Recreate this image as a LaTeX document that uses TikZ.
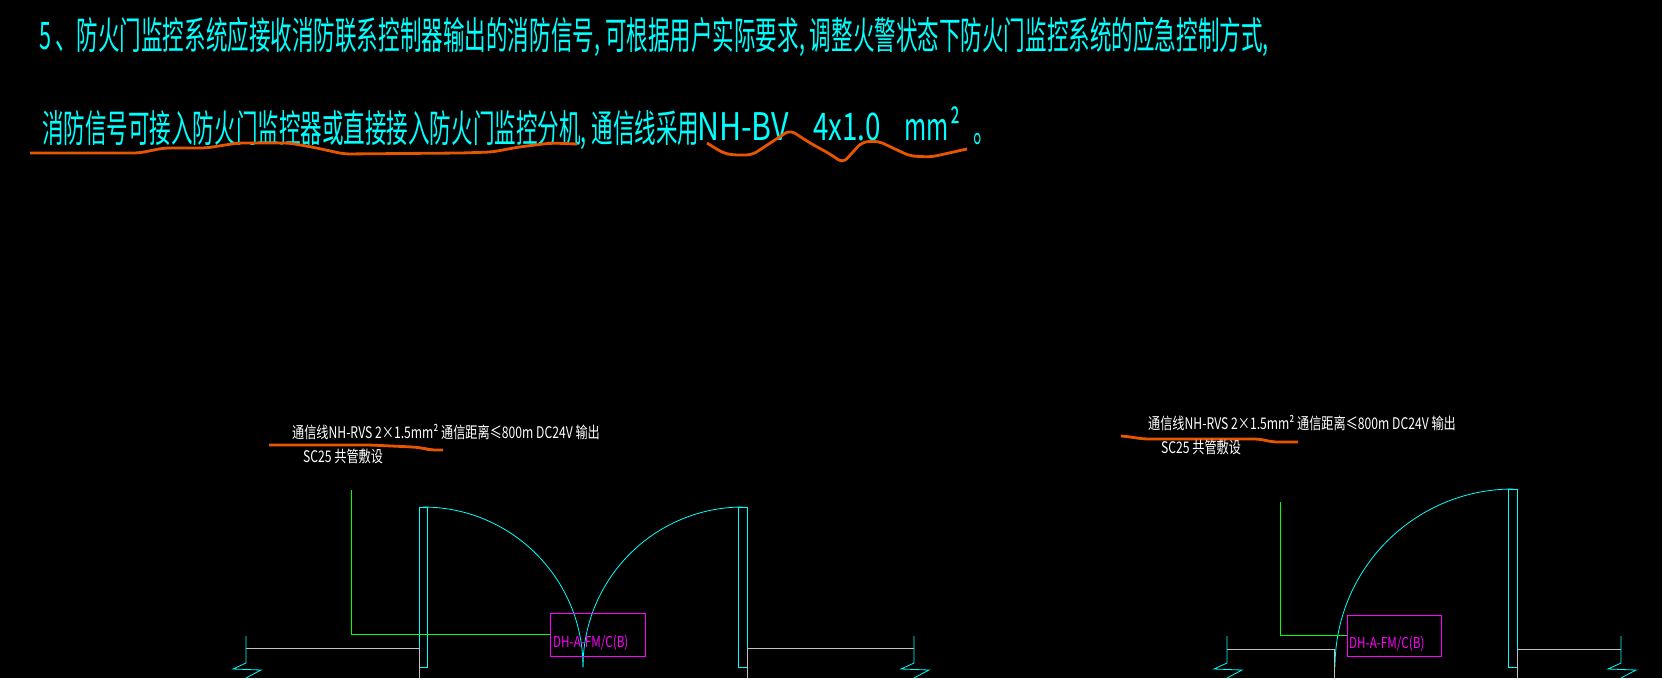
\documentclass[tikz,border=0pt]{standalone}
\usepackage{fontspec}
\setmainfont{Noto Sans CJK SC}
\definecolor{cadcyan}{HTML}{00FFFF}
\definecolor{cadgreen}{HTML}{00FF00}
\definecolor{cadpink}{HTML}{FF00FF}
\definecolor{cadwall}{HTML}{C0C0C0}
\definecolor{cadmark}{HTML}{E85500}
\newcommand*{\bigfont}{\fontsize{38}{38}\selectfont}
\newcommand*{\midfont}{\fontsize{16}{16}\selectfont}
\newcommand*{\boxfont}{\fontsize{15}{15}\selectfont}
\tikzset{
    cadtext/.style={inner sep=0pt, anchor=base west, transform shape},
    notetext/.style={cadtext, text=cadcyan, font=\bigfont},
    cabletext/.style={cadtext, text=white, font=\midfont},
    devicetext/.style={cadtext, text=cadpink, font=\boxfont},
    devicebox/.style={draw=cadpink, line width=0.8pt, inner sep=0pt, anchor=north west},
    doorline/.style={draw=cadcyan, line width=0.8pt},
    wallline/.style={draw=cadwall, line width=0.8pt},
    wireline/.style={draw=cadgreen, line width=0.8pt},
    markline/.style={draw=cadmark, line width=2.8pt, line join=round, rounded corners=6pt},
}
\newcommand*{\wallbreak}[1]{%
    \draw [doorline, shift={(#1,0)}] (0,636) -- (0,663) -- (-13,669) -- (15,670) -- (0,678);
}
\begin{document}
\begin{tikzpicture}[x=1pt,y=-1pt]
    \fill [black] (0,0) rectangle (1662,678);
    \useasboundingbox (0,0) rectangle (1662,678);
    % notes
    \node [notetext, xscale=0.5675] (noteone) at (39,49) {5\kern7pt、防火门监控系统应接收消防联系控制器输出的消防信号, 可根据用户实际要求, 调整火警状态下防火门监控系统的应急控制方式,};
    \node [notetext, xscale=0.567] (notetwo) at (42,142) {消防信号可接入防火门监控器或直接接入防火门监控分机, 通信线采用};
    \node [notetext, xscale=0.8] (notecable) at (697,140) {NH-BV};
    \node [notetext, xscale=0.73] (notesize) at (813,140) {4x1.0};
    \node [notetext, xscale=0.63] (noteunit) at (904,140) {mm\kern4pt ²};
    \node [notetext, xscale=0.57] (noteend) at (973,142) {。};
    % hand marks
    \draw [markline] (30,153) -- (139,153) -- (164,148) -- (206,148) -- (238,143) -- (289,143) -- (312,147) -- (344,154) -- (461,153) -- (492,152) -- (519,147) -- (551,143) -- (577,144);
    \draw [markline] (707,143) -- (723,153) -- (733,155) -- (752,155) -- (790,130) -- (810,143) -- (830,154) -- (843,163) -- (862,142) -- (878,141) -- (910,156) -- (931,157) -- (967,149);
    \draw [markline] (269,445) -- (370,445) -- (413,447) -- (423,448) -- (430,450) -- (443,450);
    \draw [markline] (1121,436) -- (1131,437) -- (1143,439) -- (1260,439) -- (1272,442) -- (1298,442);
    % left pair of doors
    \node [cabletext, xscale=0.76] (cableleft) at (292,438) {通信线NH-RVS 2×1.5mm² 通信距离≤800m DC24V 输出};
    \node [cabletext, xscale=0.76] (pipeleft) at (303,462) {SC25 共管敷设};
    \draw [doorline] (419,507) rectangle (427,667);
    \draw [doorline] (738,507) rectangle (747,667);
    \draw [doorline] (423,507) arc (-90:0:160);
    \draw [doorline] (743,507) arc (-90:-180:160);
    \draw [wallline] (246,648) -- (419,648) -- (419,678);
    \draw [wallline] (914,648) -- (747,648) -- (747,678);
    \wallbreak{246}
    \wallbreak{914}
    \node [devicebox, minimum width=95pt, minimum height=43pt] (boxleft) at (550,613) {};
    \node [devicetext, xscale=0.78] (labelleft) at (553,647) {DH-A-FM/C(B)};
    \coordinate (wireleft) at (351,490);
    \draw [wireline] (wireleft) |- (boxleft.west |- 0,634);
    % right door
    \node [cabletext, xscale=0.76] (cableright) at (1148,429) {通信线NH-RVS 2×1.5mm² 通信距离≤800m DC24V 输出};
    \node [cabletext, xscale=0.76] (piperight) at (1161,453) {SC25 共管敷设};
    \draw [doorline] (1508,489) rectangle (1517,667);
    \draw [doorline] (1513,489) arc (-90:-180:178);
    \draw [wallline] (1227,649) -- (1334,649) -- (1334,678);
    \draw [wallline] (1621,649) -- (1517,649) -- (1517,678);
    \wallbreak{1227}
    \wallbreak{1621}
    \node [devicebox, minimum width=94pt, minimum height=41pt] (boxright) at (1347,615) {};
    \node [devicetext, xscale=0.78] (labelright) at (1349,648) {DH-A-FM/C(B)};
    \coordinate (wireright) at (1280,502);
    \draw [wireline] (wireright) |- (boxright.west |- 0,635);
\end{tikzpicture}
\end{document}
